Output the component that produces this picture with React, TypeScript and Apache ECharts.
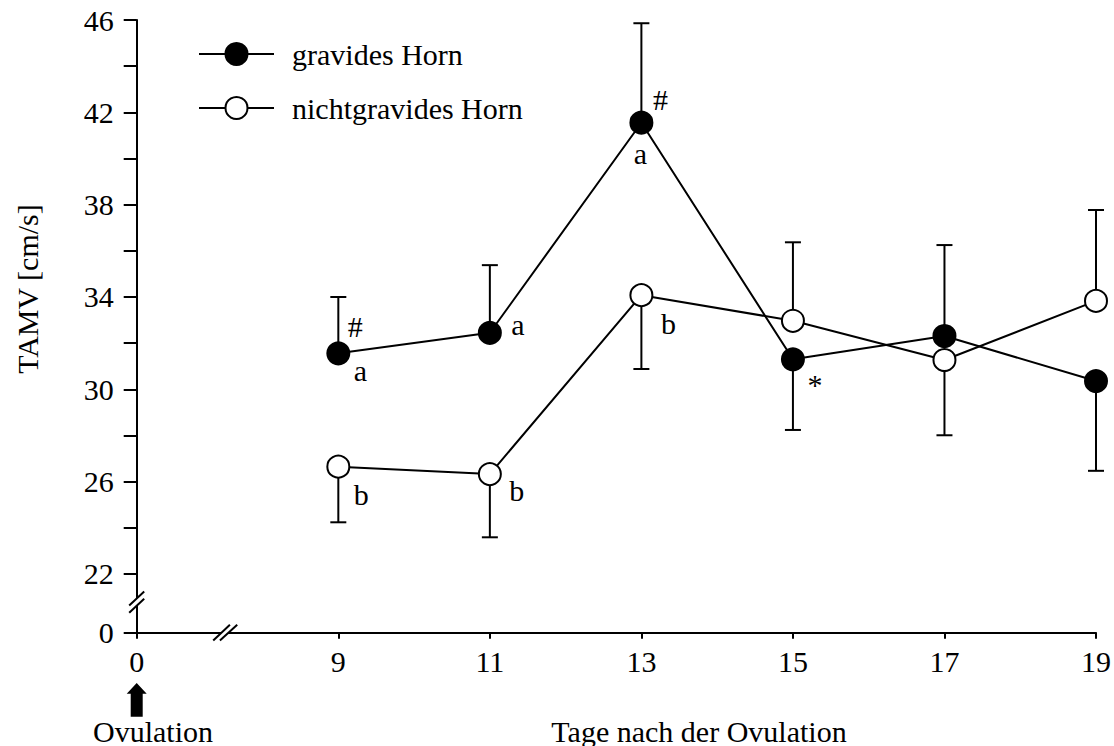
import React, { useEffect, useRef } from "react";
import * as echarts from "echarts";

// ---- data ----
const days = [9, 11, 13, 15, 17, 19];
const gravidMean = [31.56, 32.45, 41.55, 31.3, 32.31, 30.36];
const gravidErrEnd = [34.0, 35.38, 45.86, 28.24, 36.25, 26.47];
const nonGravidMean = [26.65, 26.33, 34.08, 32.97, 31.27, 33.83];
const nonGravidErrEnd = [24.24, 23.59, 30.88, 36.37, 28.01, 37.77];

const seriesNames = ["gravides Horn", "nichtgravides Horn"];
const xTickValues = [9, 11, 13, 15, 17, 19];
const yTickValues = [22, 24, 26, 28, 30, 32, 34, 36, 38, 40, 42, 44, 46];
const yLabelValues = [22, 26, 30, 34, 38, 42, 46];
// broken axes: the value position that stands for "0"
const X_ZERO = 6.339;
const Y_ZERO = 19.457;
const X_BREAK = 7.506;
const Y_BREAK = 20.78;

const annotations = [
  { series: 0, day: 9, text: "#" },
  { series: 0, day: 9, text: "a" },
  { series: 0, day: 11, text: "a" },
  { series: 0, day: 13, text: "#" },
  { series: 0, day: 13, text: "a" },
  { series: 1, day: 13, text: "b" },
  { series: 1, day: 9, text: "b" },
  { series: 1, day: 11, text: "b" },
  { series: 0, day: 15, text: "*" },
];
const annotationOffsets = [
  [17, -27],
  [22, 17],
  [28, -8],
  [19, -23],
  [-1, 31],
  [27, 28],
  [23, 28],
  [27, 16],
  [22, 25],
];

const FONT = "Liberation Serif, Times New Roman, serif";
const FS = 30;

const errorBarRender = (params: any, api: any) => {
  const x = api.value(0);
  const p0 = api.coord([x, api.value(1)]);
  const p1 = api.coord([x, api.value(2)]);
  return {
    type: "group",
    children: [
      { type: "line", shape: { x1: p0[0], y1: p0[1], x2: p1[0], y2: p1[1] }, style: { stroke: "#000", lineWidth: 2 } },
      { type: "line", shape: { x1: p1[0] - 8, y1: p1[1], x2: p1[0] + 8, y2: p1[1] }, style: { stroke: "#000", lineWidth: 2 } },
    ],
  };
};

export default function App() {
  const ref = useRef<HTMLDivElement>(null);
  useEffect(() => {
    if (!ref.current) return;
    const chart = echarts.init(ref.current, null, { renderer: "svg" });
    const means = [gravidMean, nonGravidMean];
    const annData = annotations.map((a) => [a.day, means[a.series][days.indexOf(a.day)]]);
    const option: any = {
      animation: false,
      backgroundColor: "#fff",
      textStyle: { fontFamily: FONT },
      grid: { left: 136.7, right: 17.3, top: 20, bottom: 113.3, containLabel: false },
      legend: {
        orient: "vertical",
        left: 193,
        top: 34,
        itemWidth: 75,
        itemHeight: 27.5,
        itemGap: 24,
        data: seriesNames,
        textStyle: { fontFamily: FONT, fontSize: FS, color: "#000", padding: [0, 0, 0, 13] },
      },
      xAxis: {
        type: "value",
        min: X_ZERO,
        max: 19,
        axisLine: { onZero: false, lineStyle: { color: "#000", width: 2 } },
        axisTick: { show: true, length: 6, lineStyle: { color: "#000", width: 2 }, customValues: [X_ZERO, ...xTickValues] },
        axisLabel: {
          customValues: [X_ZERO, ...xTickValues],
          formatter: (v: number) => (Math.abs(v - X_ZERO) < 1e-6 ? "0" : String(v)),
          fontFamily: FONT,
          fontSize: FS,
          color: "#000",
          margin: 14,
        },
        splitLine: { show: false },
      },
      yAxis: {
        type: "value",
        min: Y_ZERO,
        max: 46,
        axisLine: { show: true, onZero: false, lineStyle: { color: "#000", width: 2 } },
        axisTick: { show: true, length: 13, lineStyle: { color: "#000", width: 2 }, customValues: [Y_ZERO, ...yTickValues] },
        axisLabel: {
          customValues: [Y_ZERO, ...yLabelValues],
          formatter: (v: number) => (Math.abs(v - Y_ZERO) < 1e-6 ? "0" : String(v)),
          fontFamily: FONT,
          fontSize: FS,
          color: "#000",
          margin: 23,
        },
        splitLine: { show: false },
      },
      series: [
        {
          type: "custom",
          name: "err-g",
          z: 1,
          renderItem: errorBarRender,
          encode: { x: 0, y: [1, 2] },
          data: days.map((d, i) => [d, gravidMean[i], gravidErrEnd[i]]),
          silent: true,
        },
        {
          type: "custom",
          name: "err-n",
          z: 1,
          renderItem: errorBarRender,
          encode: { x: 0, y: [1, 2] },
          data: days.map((d, i) => [d, nonGravidMean[i], nonGravidErrEnd[i]]),
          silent: true,
        },
        {
          type: "line",
          name: seriesNames[0],
          z: 2,
          symbol: "circle",
          symbolSize: 22,
          lineStyle: { color: "#000", width: 2 },
          itemStyle: { color: "#000", borderColor: "#000", borderWidth: 2 },
          data: days.map((d, i) => [d, gravidMean[i]]),
        },
        {
          type: "line",
          name: seriesNames[1],
          z: 3,
          symbol: "circle",
          symbolSize: 22,
          lineStyle: { color: "#000", width: 2 },
          itemStyle: { color: "#fff", borderColor: "#000", borderWidth: 2 },
          data: days.map((d, i) => [d, nonGravidMean[i]]),
        },
        {
          type: "custom",
          name: "annotations",
          z: 5,
          silent: true,
          encode: { x: 0, y: 1 },
          data: annData,
          renderItem: (params: any, api: any) => {
            const p = api.coord([api.value(0), api.value(1)]);
            const off = annotationOffsets[params.dataIndex];
            return {
              type: "text",
              x: p[0] + off[0],
              y: p[1] + off[1],
              style: {
                text: annotations[params.dataIndex].text,
                fontFamily: FONT,
                fontSize: FS,
                fill: "#000",
                align: "center",
                verticalAlign: "middle",
              },
            };
          },
        },
      ],
    };
    chart.setOption(option);

    const yb = chart.convertToPixel({ gridIndex: 0 }, [X_ZERO, Y_BREAK]) as number[];
    const xb = chart.convertToPixel({ gridIndex: 0 }, [X_BREAK, Y_ZERO]) as number[];
    const o = chart.convertToPixel({ gridIndex: 0 }, [X_ZERO, Y_ZERO]) as number[];
    const [bx, by] = yb;
    const [cx, cy] = xb;
    const [ox, oy] = o;
    const ln = (x1: number, y1: number, x2: number, y2: number) => ({
      type: "line",
      shape: { x1, y1, x2, y2 },
      style: { stroke: "#000", lineWidth: 2 },
      z: 100,
    });
    chart.setOption({
      graphic: [
        {
          type: "polygon",
          z: 99,
          shape: { points: [[bx - 7.5, by + 3.3], [bx + 7.5, by - 10.7], [bx + 7.5, by - 3.4], [bx - 7.5, by + 10.6]] },
          style: { fill: "#fff" },
        },
        ln(bx - 7.5, by + 3.3, bx + 7.5, by - 10.7),
        ln(bx - 7.5, by + 10.6, bx + 7.5, by - 3.4),
        {
          type: "polygon",
          z: 99,
          shape: { points: [[cx - 11.9, cy + 7.85], [cx + 4.8, cy - 7.85], [cx + 12.1, cy - 7.85], [cx - 5.2, cy + 7.85]] },
          style: { fill: "#fff" },
        },
        ln(cx - 11.9, cy + 7.85, cx + 4.8, cy - 7.85),
        ln(cx - 5.2, cy + 7.85, cx + 12.1, cy - 7.85),
        {
          type: "polygon",
          z: 100,
          shape: {
            points: [
              [ox, oy + 50.3],
              [ox + 10, oy + 61],
              [ox + 6, oy + 61],
              [ox + 6, oy + 84],
              [ox - 6, oy + 84],
              [ox - 6, oy + 61],
              [ox - 10, oy + 61],
            ],
          },
          style: { fill: "#000" },
        },
        {
          type: "text",
          x: 153,
          y: 731,
          z: 100,
          style: { text: "Ovulation", fontFamily: FONT, fontSize: FS, fill: "#000", align: "center", verticalAlign: "middle" },
        },
        {
          type: "text",
          x: 699,
          y: 731,
          z: 100,
          style: { text: "Tage nach der Ovulation", fontFamily: FONT, fontSize: FS, fill: "#000", align: "center", verticalAlign: "middle" },
        },
        {
          type: "text",
          x: 27.5,
          y: 289,
          rotation: Math.PI / 2,
          z: 100,
          style: { text: "TAMV [cm/s]", fontFamily: FONT, fontSize: FS, fill: "#000", align: "center", verticalAlign: "middle" },
        },
      ],
    });
    return () => chart.dispose();
  }, []);
  return <div ref={ref} style={{ position: "absolute", left: 0, top: 0, width: 1114, height: 746 }} />;
}
